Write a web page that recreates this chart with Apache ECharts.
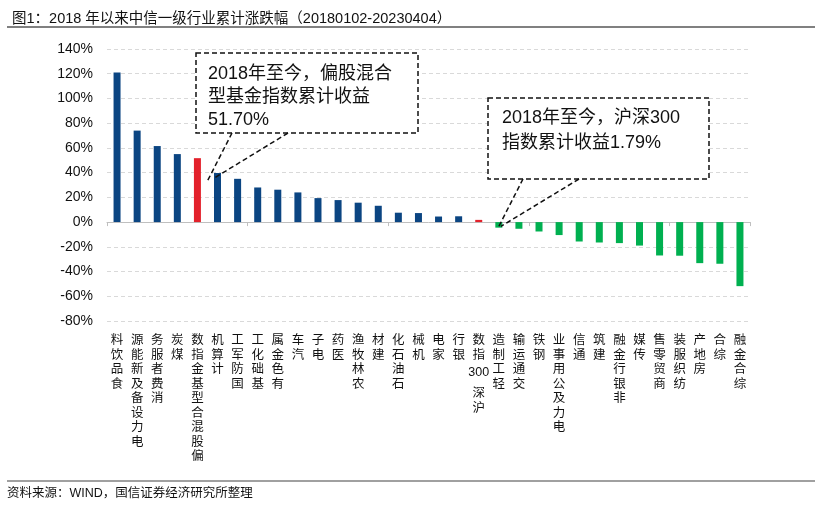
<!DOCTYPE html>
<html>
<head>
<meta charset="utf-8">
<script src="https://cdn.jsdelivr.net/npm/echarts@6/dist/echarts.min.js"></script>
<style>
html,body{margin:0;padding:0;background:#fff;}
#c{width:815px;height:512px;}
</style>
</head>
<body>
<div id="c"></div>
<script>
const categories = ['食品饮料','电力设备及新能源','消费者服务','煤炭','偏股混合型基金指数','计算机','国防军工','基础化工','有色金属','汽车','电子','医药','农林牧渔','建材','石油石化','机械','家电','银行','沪深300指数','轻工制造','交通运输','钢铁','电力及公用事业','通信','建筑','非银行金融','传媒','商贸零售','纺织服装','房地产','综合','综合金融'];
const returns = [121, 74, 61.5, 55, 51.7, 39.7, 35, 28, 26.2, 24, 19.4, 17.8, 15.7, 13.2, 7.6, 7.3, 4.5, 4.7, 1.79, -4.5, -5.4, -7.6, -10.5, -15.7, -16.5, -17, -19, -27, -27.2, -33.2, -33.7, -51.8];
const highlighted = ['偏股混合型基金指数','沪深300指数'];
const yTicks = {min: -80, max: 140, interval: 20};
const titleText = '图1：2018 年以来中信一级行业累计涨跌幅（20180102-20230404）';
const sourceText = '资料来源：WIND，国信证券经济研究所整理';
const note1 = ['2018年至今，偏股混合', '型基金指数累计收益', '51.70%'];
const note2 = ['2018年至今，沪深300', '指数累计收益1.79%'];

const FONT = '"Liberation Sans", Arial, "Noto Sans CJK SC", sans-serif';
const NAVY = '#0B4582', RED = '#E3212B', GREEN = '#00B050';

function verticalLabel(name) {
  const tokens = name.match(/[0-9]+|./g) || [];
  return tokens.reverse().map(t => /^[0-9]+$/.test(t) ? '{d|' + t + '}' : t).join('\n');
}

const chart = echarts.init(document.getElementById('c'));
chart.setOption({
  animation: false,
  backgroundColor: '#fff',
  title: {
    text: titleText, left: 7, top: 7,
    textStyle: {fontSize: 14.5, fontWeight: 'normal', color: '#111', fontFamily: FONT}
  },
  grid: {left: 107, right: 65, top: 49, bottom: 191, containLabel: false},
  xAxis: [{
    type: 'category', data: categories, position: 'bottom',
    axisLine: {onZero: true, lineStyle: {color: '#BFBFBF', width: 1}},
    axisTick: {show: true, alignWithLabel: false, length: 4, lineStyle: {color: '#BFBFBF'}},
    axisLabel: {show: false}
  }, {
    type: 'category', data: categories, position: 'bottom',
    axisLine: {show: false, onZero: false}, axisTick: {show: false},
    axisLabel: {
      interval: 0, margin: 11, color: '#111', fontSize: 12.5, lineHeight: 14.5,
      fontFamily: '"Noto Sans CJK SC", sans-serif', verticalAlign: 'top',
      formatter: verticalLabel,
      rich: {d: {fontSize: 12.5, lineHeight: 24, fontFamily: FONT, color: '#111'}}
    }
  }],
  yAxis: {
    type: 'value', min: yTicks.min, max: yTicks.max, interval: yTicks.interval,
    axisLine: {show: false}, axisTick: {show: false},
    axisLabel: {formatter: '{value}%', color: '#111', fontSize: 14, fontFamily: FONT, margin: 14},
    splitLine: {show: true, lineStyle: {color: '#D9D9D9', type: [4, 3], width: 1}}
  },
  series: [{
    type: 'bar', xAxisIndex: 0, data: returns, barWidth: 7,
    itemStyle: {
      color: p => highlighted.includes(p.name) ? RED : (p.value < 0 ? GREEN : NAVY)
    }
  }]
});

// annotations anchored to data positions
const px = (cat) => chart.convertToPixel({xAxisIndex: 0}, cat);
const py = (v) => chart.convertToPixel({yAxisIndex: 0}, v);
const midX = (px(categories[4]) + px(categories[5])) / 2;
const tip1a = [midX - 0.5, py(32.5)], tip1b = [midX + 5.5, py(35)];
const tip2 = [px(categories[19]) + 1, py(-3.5)];
const dash = {stroke: '#111', lineWidth: 1.5, lineDash: [5, 3], fill: null};
const noteFont = 'normal 18px ' + FONT;

chart.setOption({
  graphic: [
    {type: 'line', shape: {x1: 7, y1: 27, x2: 815, y2: 27}, style: {stroke: '#808080', lineWidth: 2}},
    {type: 'line', shape: {x1: 7, y1: 481, x2: 815, y2: 481}, style: {stroke: '#808080', lineWidth: 1.5}},
    {type: 'text', left: 7, top: 487, style: {text: sourceText, font: 'normal 12.5px ' + FONT, fill: '#111'}},
    // box 1
    {type: 'rect', shape: {x: 196, y: 53, width: 222, height: 80}, style: Object.assign({}, dash, {fill: '#fff'}), z: 10},
    {type: 'text', x: 208, y: 63, z: 11, style: {text: note1.join('\n'), font: noteFont, lineHeight: 23, fill: '#111'}},
    {type: 'line', z: 10, shape: {x1: 232, y1: 133, x2: tip1a[0], y2: tip1a[1]}, style: dash},
    {type: 'line', z: 10, shape: {x1: 288, y1: 133, x2: tip1b[0], y2: tip1b[1]}, style: dash},
    // box 2
    {type: 'rect', shape: {x: 488, y: 98, width: 221, height: 81}, style: Object.assign({}, dash, {fill: '#fff'}), z: 10},
    {type: 'text', x: 502, y: 106, z: 11, style: {text: note2.join('\n'), font: noteFont, lineHeight: 25, fill: '#111'}},
    {type: 'line', z: 10, shape: {x1: 523, y1: 179, x2: tip2[0] - 1, y2: tip2[1]}, style: dash},
    {type: 'line', z: 10, shape: {x1: 579, y1: 179, x2: tip2[0] + 1, y2: tip2[1]}, style: dash}
  ]
});
</script>
</body>
</html>
